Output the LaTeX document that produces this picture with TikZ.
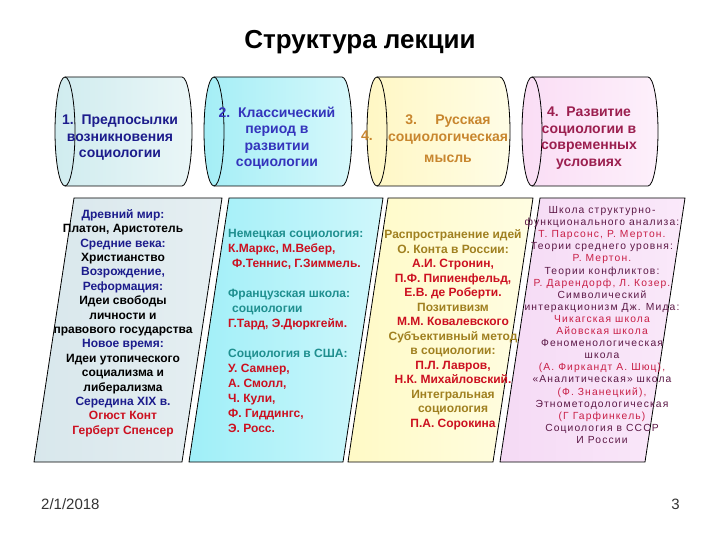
\documentclass[tikz,border=0pt]{standalone}
\usepackage{fontspec}
\setmainfont{Liberation Sans}
\newfontfamily\trackfont[LetterSpace=11]{Liberation Sans}
\usetikzlibrary{calc}
\definecolor{cylOneL}{HTML}{D0ECEF}
\definecolor{cylOneR}{HTML}{EAF6F7}
\definecolor{cylTwoL}{HTML}{A4EEF6}
\definecolor{cylTwoR}{HTML}{D6F8FB}
\definecolor{cylThreeL}{HTML}{FFF7C4}
\definecolor{cylThreeR}{HTML}{FFFDE6}
\definecolor{cylFourL}{HTML}{FADDF5}
\definecolor{cylFourR}{HTML}{FDF0FB}
\definecolor{boxOneL}{HTML}{D8E7EC}
\definecolor{boxOneR}{HTML}{E6EFF2}
\definecolor{boxTwoL}{HTML}{9FEFF8}
\definecolor{boxTwoR}{HTML}{CFF7FB}
\definecolor{boxThreeL}{HTML}{FFFAC6}
\definecolor{boxThreeR}{HTML}{FFFDE2}
\definecolor{boxFourL}{HTML}{F5DAF5}
\definecolor{boxFourR}{HTML}{FAE9FA}
\definecolor{navyText}{HTML}{1C1C8C}
\definecolor{blueText}{HTML}{3434BC}
\definecolor{ochreText}{HTML}{C8862E}
\definecolor{maroonText}{HTML}{9B1F4F}
\definecolor{redName}{HTML}{CC1020}
\definecolor{tealText}{HTML}{1F8F8F}
\definecolor{oliveText}{HTML}{A08020}
\definecolor{plumText}{HTML}{5C1846}
\definecolor{pinkName}{HTML}{C81E46}
\definecolor{footGray}{HTML}{333333}

\tikzset{
  outline/.style={draw=black,line width=0.8pt},
  scrolltext/.style={font=\bfseries\fontsize{14}{16.5}\selectfont,align=center,inner sep=0pt},
  columntext/.style={inner sep=0pt},
}

% horizontal scroll: left end x, right end x, left colour, right colour
\newcommand{\drawscroll}[4]{%
  \shade[left color=#3,right color=#4] (#1,77) -- (#2,77)
    arc[start angle=-90,end angle=90,x radius=10,y radius=54.5] -- (#1,186)
    arc[start angle=90,end angle=270,x radius=10,y radius=54.5] -- cycle;
  \draw[outline] (#1,77) -- (#2,77)
    arc[start angle=-90,end angle=90,x radius=10,y radius=54.5] -- (#1,186);
  \draw[outline] (#1,131.5) ellipse[x radius=10,y radius=54.5];
}

\begin{document}
\begin{tikzpicture}[x=1pt,y=-1pt]
\useasboundingbox[fill=white] (0,0) rectangle (720,540);

% title
\node[font=\bfseries\fontsize{26}{30}\selectfont] (title) at (360,42) {Структура лекции};

% scrolls
\drawscroll{65}{182}{cylOneL}{cylOneR}
\drawscroll{214}{342}{cylTwoL}{cylTwoR}
\drawscroll{377}{500}{cylThreeL}{cylThreeR}
\drawscroll{532}{648}{cylFourL}{cylFourR}

\node[scrolltext,text=navyText] (partOne) at (120,138) {1.~~Предпосылки\\возникновения\\социологии};
\node[scrolltext,text=blueText] (partTwo) at (277,138) {2.~~Классический\\период в\\развитии\\социологии};
\node[scrolltext,text=ochreText] (partThree) at (448,139) {3.\hspace{1.3em}Русская\\социологическая\\[5pt]мысль};
\node[scrolltext,text=ochreText] (partThreeNum) at (367,136) {4.};
\node[scrolltext,text=maroonText] (partFour) at (589,138) {4.~~Развитие\\социологии в\\современных\\условиях};

% columns
\shade[left color=boxOneL,right color=boxOneR] (74,198) -- (222,198) -- (182,462) -- (34,462) -- cycle;
\shade[left color=boxTwoL,right color=boxTwoR] (229,198) -- (383,198) -- (343,462) -- (189,462) -- cycle;
\shade[left color=boxThreeL,right color=boxThreeR] (388,198) -- (533,198) -- (493,462) -- (348,462) -- cycle;
\shade[left color=boxFourL,right color=boxFourR] (540,198) -- (685,198) -- (645,462) -- (500,462) -- cycle;
\draw[outline] (74,198) -- (222,198) -- (182,462) -- (34,462) -- cycle;
\draw[outline] (229,198) -- (383,198) -- (343,462) -- (189,462) -- cycle;
\draw[outline] (388,198) -- (533,198) -- (493,462) -- (348,462) -- cycle;
\draw[outline] (540,198) -- (685,198) -- (645,462) -- (500,462) -- cycle;

\node[columntext,align=center,font=\bfseries\fontsize{12}{14.4}\selectfont] (colOne) at (123,323) {%
\textcolor{navyText}{Древний мир:}\\
Платон, Аристотель\\
\textcolor{navyText}{Средние века:}\\
Христианство\\
\textcolor{navyText}{Возрождение,}\\
\textcolor{navyText}{Реформация:}\\
Идеи свободы\\
личности и\\
правового государства\\
\textcolor{navyText}{Новое время:}\\
Идеи утопического\\
социализма и\\
либерализма\\
\textcolor{navyText}{Середина XIX в.}\\
\textcolor{redName}{Огюст Конт}\\
\textcolor{redName}{Герберт Спенсер}};

\node[columntext,align=left,anchor=west,font=\bfseries\fontsize{12}{15}\selectfont] (colTwo) at (228,331) {%
\textcolor{tealText}{Немецкая социология:}\\
\textcolor{redName}{К.Маркс, М.Вебер,}\\
\textcolor{redName}{\hspace*{4pt}Ф.Теннис, Г.Зиммель.}\\[15pt]
\textcolor{tealText}{Французская школа:}\\
\textcolor{tealText}{\hspace*{4pt}социологии}\\
\textcolor{redName}{Г.Тард, Э.Дюркгейм.}\\[15pt]
\textcolor{tealText}{Социология в США:}\\
\textcolor{redName}{У. Самнер,}\\
\textcolor{redName}{А. Смолл,}\\
\textcolor{redName}{Ч. Кули,}\\
\textcolor{redName}{Ф. Гиддингс,}\\
\textcolor{redName}{Э. Росс.}};

\node[columntext,align=center,font=\bfseries\fontsize{12}{14.5}\selectfont] (colThree) at (453,330) {%
\textcolor{oliveText}{Распространение идей}\\
\textcolor{oliveText}{О. Конта в России:}\\
\textcolor{redName}{А.И. Стронин,}\\
\textcolor{redName}{П.Ф. Пипиенфельд,}\\
\textcolor{redName}{Е.В. де Роберти.}\\
\textcolor{oliveText}{Позитивизм}\\
\textcolor{redName}{М.М. Ковалевского}\\
\textcolor{oliveText}{Субъективный метод}\\
\textcolor{oliveText}{в социологии:}\\
\textcolor{redName}{П.Л. Лавров,}\\
\textcolor{redName}{Н.К. Михайловский.}\\
\textcolor{oliveText}{Интегральная}\\
\textcolor{oliveText}{социология}\\
\textcolor{redName}{П.А. Сорокина}};

\node[columntext,align=center,font=\trackfont\fontsize{10.3}{12.1}\selectfont] (colFour) at (602,325) {%
\textcolor{plumText}{Школа структурно-}\\
\textcolor{plumText}{функционального анализа:}\\
\textcolor{pinkName}{Т. Парсонс, Р. Мертон.}\\
\textcolor{plumText}{Теории среднего уровня:}\\
\textcolor{pinkName}{Р. Мертон.}\\
\textcolor{plumText}{Теории конфликтов:}\\
\textcolor{pinkName}{Р. Дарендорф, Л. Козер.}\\
\textcolor{plumText}{Символический}\\
\textcolor{plumText}{интеракционизм Дж. Мида:}\\
\textcolor{pinkName}{Чикагская школа}\\
\textcolor{pinkName}{Айовская школа}\\
\textcolor{plumText}{Феноменологическая}\\
\textcolor{plumText}{школа}\\
\textcolor{pinkName}{(А. Фиркандт А. Шюц),}\\
\textcolor{plumText}{«Аналитическая» школа}\\
\textcolor{pinkName}{(Ф. Знанецкий),}\\
\textcolor{plumText}{Этнометодологическая}\\
\textcolor{pinkName}{(Г Гарфинкель)}\\
\textcolor{plumText}{Социология в СССР}\\
\textcolor{plumText}{И России}};

% footer
\node[font=\fontsize{15}{18}\selectfont,text=footGray,anchor=west,inner sep=0pt] (date) at (41,504) {2/1/2018};
\node[font=\fontsize{15}{18}\selectfont,text=footGray,anchor=east,inner sep=0pt] (page) at (680,504) {3};
\end{tikzpicture}
\end{document}
